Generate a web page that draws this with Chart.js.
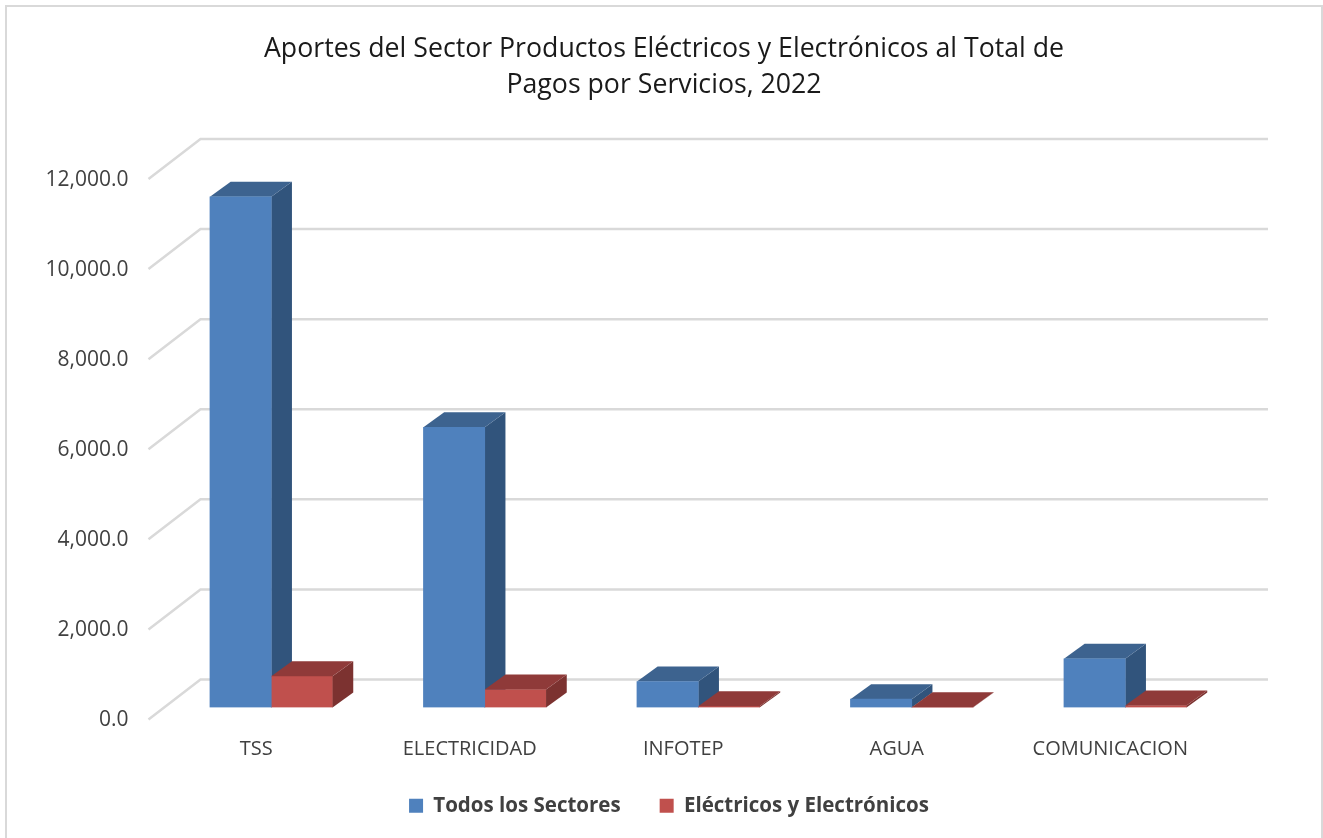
<!DOCTYPE html>
<html><head><meta charset="utf-8">
<style>html,body{margin:0;padding:0;background:#fff}#w{width:1323px;height:838px;position:relative}</style>
<script src="https://cdn.jsdelivr.net/npm/chart.js@4"></script>
</head><body><div id="w"><canvas id="c" width="1323" height="838"></canvas></div>
<script>
const titleLines = ['Aportes del Sector Productos Eléctricos y Electrónicos al Total de', 'Pagos por Servicios, 2022'];
const categories = ['TSS', 'ELECTRICIDAD', 'INFOTEP', 'AGUA', 'COMUNICACION'];
const todosLosSectores = [11340, 6220, 578, 185, 1082];
const electricos = [695, 400, 30, 8, 45];
const FONT = '"Open Sans", sans-serif';
const TEXT = '#404040';
const BLUE = {front:'#4F81BD', top:'#3D638F', side:'#31547C'};
const RED = {front:'#C0504D', top:'#8F3A39', side:'#7C3230'};
const barDepth = {dx:20.7, dy:15};
const wallShift = {back:{dx:36, dy:-28}, front:{dx:-16, dy:12}};

function poly(ctx, pts, fill){
  ctx.beginPath();
  pts.forEach((p,i)=> i ? ctx.lineTo(p[0],p[1]) : ctx.moveTo(p[0],p[1]));
  ctx.closePath();
  ctx.fillStyle = fill;
  ctx.fill();
}
function faces(chart, idx, col){
  const ctx = chart.ctx;
  const {dx, dy} = barDepth;
  chart.getDatasetMeta(idx).data.forEach(b=>{
    const l = b.x - b.width/2, r = b.x + b.width/2, t = b.y, base = b.base;
    poly(ctx, [[r,base],[r+dx,base-dy],[r+dx,t-dy],[r,t]], col.side);
    poly(ctx, [[l,t],[r,t],[r+dx,t-dy],[l+dx,t-dy]], col.top);
  });
}
const bars3d = {
  id:'bars3d',
  afterLayout(chart){
    chart.legend.left += 5;
    chart.legend.right += 5;
  },
  beforeDraw(chart){
    const ctx = chart.ctx;
    ctx.save();
    ctx.strokeStyle = '#D9D9D9';
    ctx.lineWidth = 2;
    ctx.beginPath();
    ctx.moveTo(6, 838); ctx.lineTo(6, 6); ctx.lineTo(1322, 6); ctx.lineTo(1322, 838);
    ctx.stroke();
    ctx.restore();
  },
  beforeDatasetsDraw(chart){
    const ctx = chart.ctx, ys = chart.scales.y, a = chart.chartArea;
    ctx.save();
    ctx.strokeStyle = '#D9D9D9';
    ctx.lineWidth = 2.5;
    ys.ticks.forEach(t=>{
      const p = ys.getPixelForValue(t.value);
      ctx.beginPath();
      ctx.moveTo(a.left + wallShift.front.dx, p + wallShift.front.dy);
      ctx.lineTo(a.left + wallShift.back.dx, p + wallShift.back.dy);
      ctx.lineTo(a.right + wallShift.back.dx, p + wallShift.back.dy);
      ctx.stroke();
    });
    faces(chart, 0, BLUE);
    ctx.restore();
  },
  afterDatasetsDraw(chart){
    chart.ctx.save();
    faces(chart, 1, RED);
    chart.ctx.restore();
  }
};
new Chart(document.getElementById('c'), {
  type:'bar',
  plugins:[bars3d],
  data:{labels:categories, datasets:[
    {label:'Todos los Sectores', data:todosLosSectores, backgroundColor:BLUE.front, barThickness:61.3},
    {label:'Eléctricos y Electrónicos', data:electricos, backgroundColor:RED.front, barThickness:61.3}
  ]},
  options:{
    responsive:false, animation:false, events:[],
    layout:{padding:{left:5, right:0, top:24, bottom:12}},
    plugins:{
      tooltip:{enabled:false},
      title:{display:true, text:titleLines, color:'#1a1a1a', font:{family:FONT, size:26.7, weight:'normal', lineHeight:1.33}, padding:{top:8, bottom:64}},
      legend:{position:'bottom', labels:{color:TEXT, font:{family:FONT, size:20.5, weight:'bold'}, boxWidth:14, boxHeight:14, padding:39}}
    },
    scales:{
      x:{grid:{display:false, drawTicks:false}, border:{display:false},
         ticks:{color:TEXT, font:{family:FONT, size:20}, labelOffset:-15, padding:30, maxRotation:0, autoSkip:false},
         afterFit(s){ s.height = 49; }},
      y:{min:0, max:12000, grid:{display:false, drawTicks:false}, border:{display:false},
         ticks:{stepSize:2000, color:TEXT, font:{family:FONT, size:21}, labelOffset:13, padding:36,
                callback:v=>v.toLocaleString('en-US',{minimumFractionDigits:1, maximumFractionDigits:1})},
         afterFit(s){ s.width = 159.5; }},
      rightGap:{position:'right', grid:{display:false, drawTicks:false}, border:{display:false}, ticks:{display:false},
         afterFit(s){ s.width = 91; }}
    }
  }
});
</script></body></html>
